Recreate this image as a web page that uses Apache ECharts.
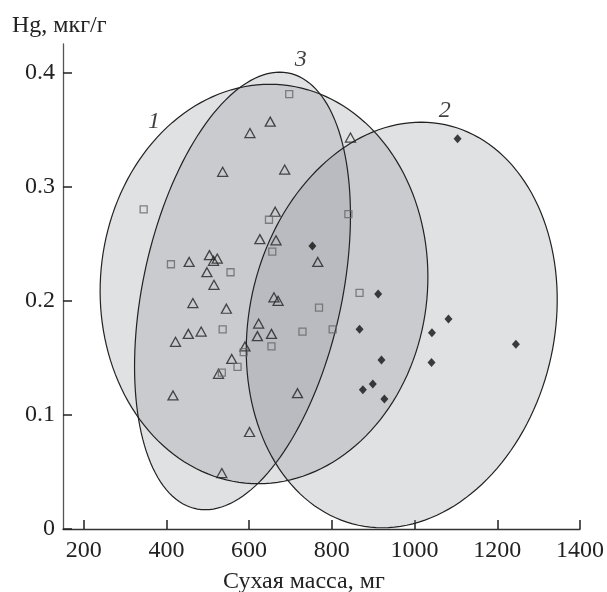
<!DOCTYPE html>
<html>
<head>
<meta charset="utf-8">
<script src="https://cdn.jsdelivr.net/npm/echarts@6/dist/echarts.min.js"></script>
<style>
html, body { margin: 0; padding: 0; background: #fff; }
#main { width: 607px; height: 592px; }
</style>
</head>
<body>
<div id="main"></div>
<script>
// точки: [сухая масса, мг ; Hg, мкг/г]
var triangles = [
  [651, 0.357], [602, 0.347], [536, 0.313], [686, 0.315], [663, 0.278],
  [626, 0.254], [665, 0.253], [455, 0.234], [504, 0.240], [523, 0.237],
  [514, 0.235], [498, 0.225], [515, 0.214], [766, 0.234], [845, 0.343],
  [464, 0.198], [545, 0.193], [660, 0.203], [670, 0.200], [623, 0.180],
  [484, 0.173], [453, 0.171], [422, 0.164], [620, 0.169], [654, 0.171],
  [590, 0.160], [558, 0.149], [526, 0.136], [416, 0.117], [717, 0.119],
  [601, 0.085], [534, 0.049]
];
var squares = [
  [697, 0.381], [345, 0.280], [648, 0.271], [656, 0.243], [411, 0.232],
  [555, 0.225], [840, 0.276], [769, 0.194], [867, 0.207], [536, 0.175],
  [729, 0.173], [802, 0.175], [654, 0.160], [587, 0.155], [572, 0.142],
  [534, 0.137]
];
var diamonds = [
  [1104, 0.342], [753, 0.248], [912, 0.206], [1082, 0.184], [1042, 0.172],
  [1245, 0.162], [867, 0.175], [920, 0.148], [1041, 0.146], [899, 0.127],
  [875, 0.122], [927, 0.114]
];

// эллипсы 1, 2, 3: центр, полудиаметр к верхней точке, горизонтальная полуось
var ellipseNames = ['1', '2', '3'];
var ellipseCenters = [[636, 0.2147], [969, 0.1788], [584, 0.2086]];
var ellipseTopAxis = [[14, 0.175], [47, 0.1777], [90, 0.1917]];
var ellipseHalfWidth = [396, 373, 245];
var ellipseLabelPos = [[370, 0.357], [1073, 0.367], [725, 0.411]];

var xTicks = [200, 400, 600, 800, 1000, 1200, 1400];
var yTicks = [0, 0.1, 0.2, 0.3, 0.4];

var serif = '"Liberation Serif", "DejaVu Serif", serif';

function ellipsePoints(i, api) {
  var c = ellipseCenters[i], u = ellipseTopAxis[i], h = ellipseHalfWidth[i];
  var pts = [];
  for (var k = 0; k < 160; k++) {
    var t = k / 160 * Math.PI * 2;
    pts.push(api.coord([c[0] + u[0] * Math.cos(t) + h * Math.sin(t),
                        c[1] + u[1] * Math.cos(t)]));
  }
  return pts;
}

var myChart = echarts.init(document.getElementById('main'));
var option = {
  animation: false,
  backgroundColor: '#fff',
  grid: { left: 63, right: 25, top: 44, bottom: 63 },
  xAxis: {
    type: 'value', min: 150, max: 1400,
    axisLine: { lineStyle: { color: '#333', width: 1.3 } },
    axisTick: { inside: true, length: 9, customValues: xTicks, lineStyle: { color: '#222', width: 1.5 } },
    axisLabel: { customValues: xTicks, margin: 10, color: '#222', fontFamily: serif, fontSize: 24,
      formatter: function (v) { return String(v); } },
    splitLine: { show: false }
  },
  yAxis: {
    type: 'value', min: 0, max: 0.425,
    axisLine: { show: true, lineStyle: { color: '#555', width: 1.3 } },
    axisTick: { show: true, inside: true, length: 9, customValues: yTicks, lineStyle: { color: '#222', width: 1.5 } },
    axisLabel: { customValues: yTicks, margin: 8, color: '#222', fontFamily: serif, fontSize: 24,
      formatter: function (v) { return v === 0 ? '0' : v.toFixed(1); } },
    splitLine: { show: false }
  },
  graphic: [
    { type: 'text', left: 12, top: 14, style: { text: 'Hg, мкг/г', fill: '#222', font: '24px ' + serif } },
    { type: 'text', left: 223, top: 570, style: { text: 'Сухая масса, мг', fill: '#222', font: '24px ' + serif } }
  ],
  series: [
    {
      type: 'custom', z: 1, silent: true,
      data: ellipseNames.map(function (n, i) { return [i]; }),
      encode: { x: -1, y: -1 },
      renderItem: function (params, api) {
        return { type: 'polygon', shape: { points: ellipsePoints(params.dataIndex, api) },
          style: { fill: 'rgba(145,148,155,0.28)', stroke: null } };
      }
    },
    {
      type: 'custom', z: 2, silent: true,
      data: ellipseNames.map(function (n, i) { return [i]; }),
      encode: { x: -1, y: -1 },
      renderItem: function (params, api) {
        return { type: 'polygon', shape: { points: ellipsePoints(params.dataIndex, api) },
          style: { fill: 'none', stroke: '#222', lineWidth: 1.2 } };
      }
    },
    {
      type: 'scatter', z: 3, symbolSize: 1, silent: true,
      itemStyle: { color: 'rgba(0,0,0,0)' },
      data: ellipseLabelPos.map(function (p, i) { return [p[0], p[1], ellipseNames[i]]; }),
      label: { show: true, position: 'inside', formatter: function (p) { return p.value[2]; },
        color: '#111', textBorderWidth: 0, fontFamily: serif, fontStyle: 'italic', fontSize: 24 }
    },
    {
      name: 'triangles', type: 'scatter', z: 4, symbol: 'triangle', symbolSize: [10, 9],
      itemStyle: { color: 'rgba(0,0,0,0)', borderColor: '#222', borderWidth: 1.3 },
      data: triangles
    },
    {
      name: 'squares', type: 'scatter', z: 4, symbol: 'rect', symbolSize: 7,
      itemStyle: { color: 'rgba(0,0,0,0)', borderColor: '#666', borderWidth: 1.3 },
      data: squares
    },
    {
      name: 'diamonds', type: 'scatter', z: 4, symbol: 'diamond', symbolSize: [8, 9],
      itemStyle: { color: '#111' },
      data: diamonds
    }
  ]
};
myChart.setOption(option);
</script>
</body>
</html>
